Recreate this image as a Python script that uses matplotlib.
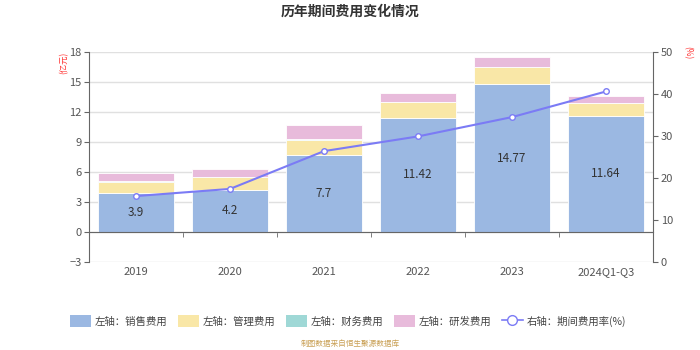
import matplotlib
matplotlib.use("Agg")
from matplotlib import pyplot as plt
from matplotlib.patches import FancyBboxPatch
from matplotlib.lines import Line2D
import numpy as np

plt.rcParams['font.family'] = ['Noto Sans CJK SC', 'DejaVu Sans']

# Data (亿元 / %)
categories = ["2019", "2020", "2021", "2022", "2023", "2024Q1-Q3"]
sales = [3.9, 4.2, 7.7, 11.42, 14.77, 11.64]
management = [1.15, 1.27, 1.55, 1.55, 1.70, 1.26]
finance = [0.02, 0.02, 0.02, 0.02, 0.02, 0.02]
rnd = [0.88, 0.80, 1.40, 0.90, 1.03, 0.64]
rate = [15.7, 17.4, 26.4, 29.9, 34.5, 40.6]

series_names = ["左轴：销售费用", "左轴：管理费用", "左轴：财务费用", "左轴：研发费用"]
line_name = "右轴：期间费用率(%)"
left_ticks = [-3, 0, 3, 6, 9, 12, 15, 18]
right_ticks = [0, 10, 20, 30, 40, 50]

colors = ["#9bb8e2", "#f9e7a7", "#9fd8d6", "#e8bbdb"]
line_color = "#7b7bf5"
axis_color = "#666666"
text_color = "#555555"


def main():
    fig = plt.figure(figsize=(7, 3.5), dpi=100)
    ax = fig.add_axes([89 / 700, 1 - 262 / 350, (653 - 89) / 700, 210 / 350])

    x = np.arange(len(categories))
    bottom = np.zeros(len(categories))
    for vals, c in zip([sales, management, finance, rnd], colors):
        ax.bar(x, vals, width=0.8, bottom=bottom, color=c,
               edgecolor="white", linewidth=0.6, zorder=2)
        bottom += np.array(vals)

    for xi, v in zip(x, sales):
        ax.text(xi, v / 2, f"{v:g}", ha="center", va="center",
                fontsize=8.5, color="#333333", zorder=4)

    ax.set_xlim(-0.5, len(categories) - 0.5)
    ax.set_ylim(-3, 18)
    ax.set_yticks(left_ticks)
    ax.grid(axis="y", color="#e0e0e0", linewidth=1, zorder=0)
    ax.set_axisbelow(True)

    ax.spines["top"].set_visible(False)
    ax.spines["right"].set_visible(False)
    ax.spines["left"].set_color(axis_color)
    ax.spines["bottom"].set_position(("data", 0))
    ax.spines["bottom"].set_color(axis_color)

    ax.set_xticks(x)
    ax.set_xticklabels(categories)
    ax.set_xticks(np.arange(-0.5, len(categories)), minor=True)
    ax.tick_params(axis="x", which="major", length=0, pad=25,
                   labelsize=8, labelcolor=text_color)
    ax.tick_params(axis="x", which="minor", length=3.5, color=axis_color)
    ax.tick_params(axis="y", length=3.5, color=axis_color,
                   labelsize=8, labelcolor=text_color, pad=2)

    ax2 = ax.twinx()
    ax2.plot(x, rate, color=line_color, linewidth=1.5, marker="o",
             markersize=4, markerfacecolor="white",
             markeredgecolor=line_color, markeredgewidth=1, zorder=5)
    ax2.set_ylim(0, 50)
    ax2.set_yticks(right_ticks)
    for s in ["top", "left", "bottom"]:
        ax2.spines[s].set_visible(False)
    ax2.spines["right"].set_color(axis_color)
    ax2.tick_params(axis="y", length=3.5, color=axis_color,
                    labelsize=8, labelcolor=text_color, pad=2)

    fig.text(0.5, 1 - 12 / 350, "历年期间费用变化情况", ha="center", va="center",
             fontsize=10, fontweight="bold", color="#333333")
    fig.text(64 / 700, 1 - 63 / 350, "(亿元)", ha="center", va="center",
             rotation=90, fontsize=6, color="#ff3333")
    fig.text(688 / 700, 1 - 53 / 350, "(%)", ha="center", va="center",
             rotation=-90, fontsize=6, color="#ff3333")

    handles = [FancyBboxPatch((0, 0), 1, 1, boxstyle="round,pad=0.1",
                              facecolor=c, edgecolor="none") for c in colors]
    handles.append(Line2D([0], [0], color=line_color, linewidth=1.2, marker="o",
                          markersize=7, markerfacecolor="white",
                          markeredgecolor=line_color))
    leg = fig.legend(handles, series_names + [line_name], loc="center",
                     bbox_to_anchor=(348 / 700, 1 - 321 / 350), ncol=5, frameon=False,
                     fontsize=7.5, handlelength=2.0, handleheight=1.3,
                     handletextpad=0.4, columnspacing=1.0)
    for t in leg.get_texts():
        t.set_color("#444444")

    fig.text(0.5, 1 - 344 / 350, "制图数据来自恒生聚源数据库", ha="center",
             va="center", fontsize=5.5, color="#c9a055")

    fig.savefig("out.png", dpi=100)


if __name__ == "__main__":
    main()
